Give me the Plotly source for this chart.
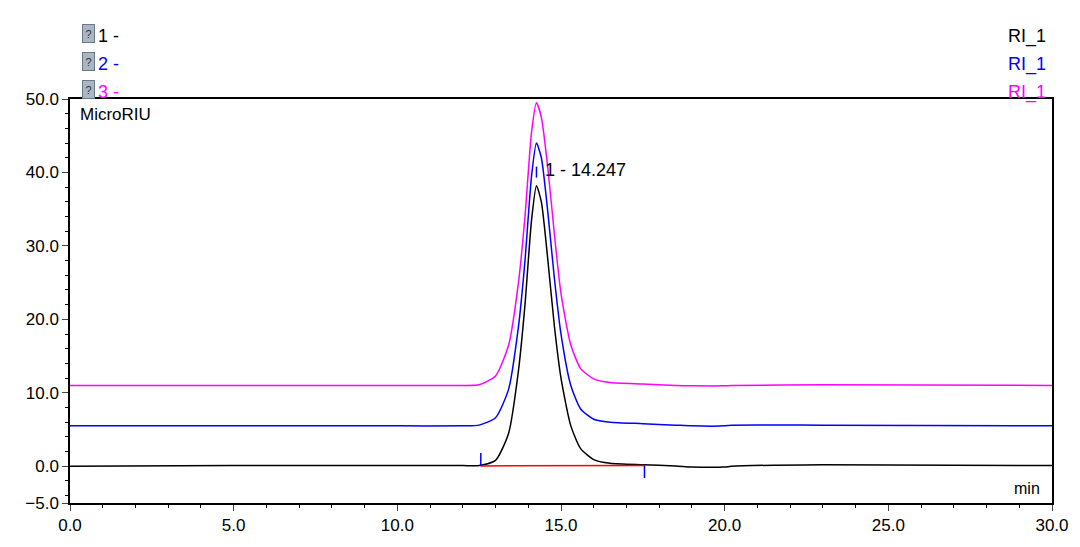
import plotly.graph_objects as go

t = [0.0, 5.0, 10.0, 12.0, 12.5, 13.0, 13.4, 13.7, 13.9, 14.1, 14.25, 14.4, 14.6, 14.8, 15.0, 15.3, 15.6, 16.0, 16.5, 17.5, 18.5, 19.0, 20.0, 20.2, 23.0, 30.0]
black = [0.0, 0.1, 0.1, 0.1, 0.1, 0.8, 4.5, 13.0, 22.0, 33.5, 38.2, 36.0, 28.0, 19.0, 12.0, 5.5, 2.4, 0.9, 0.4, 0.2, 0.05, -0.1, -0.1, 0.0, 0.2, 0.1]
blue = [5.5, 5.5, 5.5, 5.5, 5.6, 6.6, 10.5, 19.0, 28.0, 39.5, 44.0, 42.0, 34.5, 25.5, 18.0, 11.0, 7.8, 6.4, 6.0, 5.8, 5.6, 5.5, 5.5, 5.6, 5.6, 5.5]
magenta = [11.0, 11.0, 11.0, 11.0, 11.1, 12.3, 16.5, 25.0, 34.0, 45.5, 49.5, 47.5, 40.5, 31.5, 23.5, 16.5, 13.3, 11.9, 11.4, 11.2, 11.0, 10.95, 10.95, 11.0, 11.1, 11.0]
series = [("1 -", black, "black"), ("2 -", blue, "#0000ff"), ("3 -", magenta, "#ff00ff")]

peak_label = "1 - 14.247"
peak_rt, start_rt, end_rt = 14.25, 12.55, 17.55

fig = go.Figure()
for name, ys, c in series:
    fig.add_trace(go.Scatter(x=t, y=ys, mode="lines", line=dict(color=c, width=1.5, shape="spline", smoothing=0.6), showlegend=False))
fig.add_trace(go.Scatter(x=[start_rt, end_rt], y=[0.05, 0.1], mode="lines", line=dict(color="red", width=1.5), showlegend=False))
for x0, y0, y1 in [(start_rt, 0, 1.8), (peak_rt, 39.3, 40.8), (end_rt, -1.6, 0.1)]:
    fig.add_trace(go.Scatter(x=[x0, x0], y=[y0, y1], mode="lines", line=dict(color="#0000ff", width=1.5), showlegend=False))

fig.add_annotation(x=14.45, y=40.3, text=peak_label, showarrow=False, xanchor="left", font=dict(size=18, color="black"))
fig.add_annotation(x=0.99, y=0.01, xref="paper", yref="paper", text="min", showarrow=False, xanchor="right", yanchor="bottom", font=dict(size=16))
fig.add_annotation(x=0.008, y=0.99, xref="paper", yref="paper", text="MicroRIU", showarrow=False, xanchor="left", yanchor="top", font=dict(size=17))
for i, (name, ys, c) in enumerate(series):
    yp = 1 + (99 - (24 + 28 * i)) / 404
    fig.add_annotation(x=0.0265, y=yp, xref="paper", yref="paper", text=name, showarrow=False, xanchor="left", font=dict(size=18, color=c))
    fig.add_annotation(x=0.012, y=yp, xref="paper", yref="paper", text="?", showarrow=False, bgcolor="#a9b6c4", bordercolor="#6b7886", borderwidth=1, font=dict(size=11, color="#333"), width=11, height=17, borderpad=0)
    fig.add_annotation(x=0.996, y=yp, xref="paper", yref="paper", text="RI_1", showarrow=False, xanchor="right", font=dict(size=18, color=c))

fig.update_layout(width=1080, height=547, margin=dict(l=62, r=36, t=91, b=52), plot_bgcolor="white", paper_bgcolor="white",
                  font=dict(family="Liberation Sans, Arial", size=17, color="black"))
fig.update_xaxes(range=[0, 30], tickvals=[0, 5, 10, 15, 20, 25, 30], tickformat=".1f", showgrid=False, zeroline=False,
                 ticks="outside", ticklen=6, showline=True, mirror=True, linecolor="black", linewidth=1.5,
                 minor=dict(dtick=1, ticks="outside", ticklen=3, tickcolor="black"))
fig.update_yaxes(range=[-5, 50], tickvals=[-5, 0, 10, 20, 30, 40, 50], tickformat=".1f", showgrid=False, zeroline=False,
                 ticks="outside", ticklen=6, showline=True, mirror=True, linecolor="black", linewidth=1.5,
                 minor=dict(dtick=2, ticks="outside", ticklen=3, tickcolor="black"))
fig.write_html("out.html")
